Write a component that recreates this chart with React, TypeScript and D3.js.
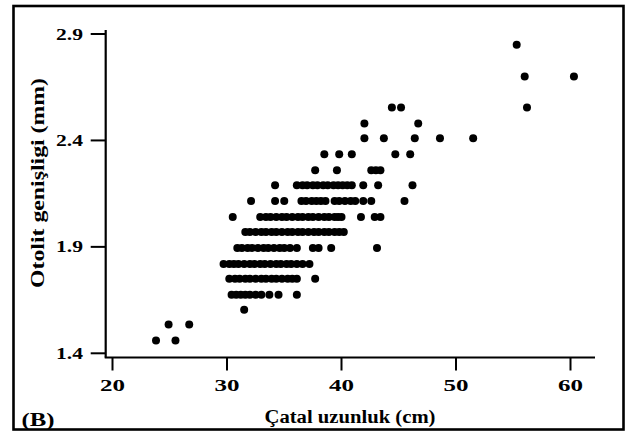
import React from "react";
import * as d3 from "d3";

// Otolith width levels (mm) and fork lengths (cm) measured at each level
const widthLevels = [1.46, 1.535, 1.605, 1.675, 1.75, 1.82, 1.895, 1.97, 2.04, 2.115, 2.19, 2.26, 2.335, 2.41, 2.48, 2.555, 2.7, 2.85];
const lengthsByLevel: number[][] = [
  [23.8, 25.5],
  [24.9, 26.7],
  [31.5],
  [30.4, 30.8, 31.2, 31.6, 32.0, 32.5, 33.0, 33.7, 34.5, 36.1],
  [30.2, 30.7, 31.1, 31.6, 32.0, 32.5, 33.0, 33.4, 33.9, 34.3, 34.8, 35.3, 35.7, 36.1, 37.7],
  [29.7, 30.2, 30.6, 31.0, 31.5, 32.0, 32.4, 32.9, 33.3, 33.8, 34.3, 34.7, 35.2, 35.6, 36.1, 36.6, 37.2],
  [30.9, 31.3, 31.8, 32.2, 32.7, 33.2, 33.6, 34.1, 34.6, 35.0, 35.5, 36.1, 37.5, 38.0, 39.1, 43.1],
  [31.6, 32.0, 32.5, 33.0, 33.4, 33.9, 34.3, 34.8, 35.3, 35.7, 36.2, 36.6, 37.1, 37.6, 38.0, 38.5, 38.9, 39.4, 39.8, 40.2],
  [30.5, 32.9, 33.4, 33.8, 34.3, 34.8, 35.2, 35.7, 36.2, 36.6, 37.1, 37.5, 38.0, 38.5, 38.9, 39.4, 39.7, 40.0, 41.7, 42.9, 43.4],
  [32.1, 34.2, 35.0, 36.5, 36.9, 37.4, 37.8, 38.2, 38.6, 39.4, 39.8, 40.3, 40.8, 41.2, 41.9, 42.6, 45.5],
  [34.2, 36.1, 36.6, 37.0, 37.5, 37.9, 38.4, 38.8, 39.3, 39.7, 40.1, 40.5, 40.9, 41.9, 43.2, 46.2],
  [37.7, 39.6, 42.6, 43.0, 43.4],
  [38.5, 39.8, 40.9, 44.7, 46.0],
  [42.0, 43.7, 46.4, 48.6, 51.5],
  [42.0, 46.7],
  [44.4, 45.2, 56.2],
  [56.0, 60.3],
  [55.3],
];
const xTicks = [20, 30, 40, 50, 60];
const yTicks = [1.4, 1.9, 2.4, 2.9];
const xTitle = "Çatal uzunluk (cm)";
const yTitle = "Otolit genişligi (mm)";
const panelLabel = "(B)";

export default function App() {
  const x = d3.scaleLinear().domain([20, 60]).range([112.5, 570.5]);
  const y = d3.scaleLinear().domain([1.4, 2.9]).range([353.3, 34]);
  const axisX = 105.7;
  const axisY = 357.5;
  const points: { lx: number; wy: number }[] = [];
  widthLevels.forEach((w, i) => lengthsByLevel[i].forEach((l) => points.push({ lx: l, wy: w })));
  const font = "'Liberation Serif', 'Times New Roman', serif";
  return (
    <svg width={632} height={432} style={{ position: "absolute", left: 0, top: 0, background: "#fff" }}>
      <rect x={13.5} y={6} width={610} height={423.5} fill="#fff" stroke="#000" strokeWidth={2.6} />
      {/* axes */}
      <line x1={axisX} x2={axisX} y1={y(2.9) - 4} y2={axisY} stroke="#000" strokeWidth={2.2} />
      <line x1={axisX - 1} x2={595} y1={axisY} y2={axisY} stroke="#000" strokeWidth={2.2} />
      {yTicks.map((t) => (
        <g key={"y" + t}>
          <line x1={axisX - 15} x2={axisX} y1={y(t)} y2={y(t)} stroke="#000" strokeWidth={2} />
          <text x={83} y={y(t) + 5.5} textAnchor="end" fontFamily={font} fontWeight="bold" fontSize={17}
            textLength={27} lengthAdjust="spacingAndGlyphs">
            {t.toFixed(1)}
          </text>
        </g>
      ))}
      {xTicks.map((t) => (
        <g key={"x" + t}>
          <line x1={x(t)} x2={x(t)} y1={axisY} y2={axisY + 13} stroke="#000" strokeWidth={2} />
          <text x={x(t)} y={390.5} textAnchor="middle" fontFamily={font} fontWeight="bold" fontSize={17}
            textLength={25} lengthAdjust="spacingAndGlyphs">
            {t}
          </text>
        </g>
      ))}
      {points.map((p, i) => (
        <circle key={i} cx={x(p.lx)} cy={y(p.wy)} r={4} fill="#000" />
      ))}
      <text x={350} y={423} textAnchor="middle" fontFamily={font} fontWeight="bold" fontSize={18}
        textLength={171} lengthAdjust="spacingAndGlyphs">
        {xTitle}
      </text>
      <text transform={`translate(44,183) rotate(-90)`} textAnchor="middle" fontFamily={font} fontWeight="bold"
        fontSize={18} textLength={210} lengthAdjust="spacingAndGlyphs">
        {yTitle}
      </text>
      <text x={21.5} y={426} fontFamily={font} fontWeight="bold" fontSize={19}
        textLength={33} lengthAdjust="spacingAndGlyphs">
        {panelLabel}
      </text>
    </svg>
  );
}
